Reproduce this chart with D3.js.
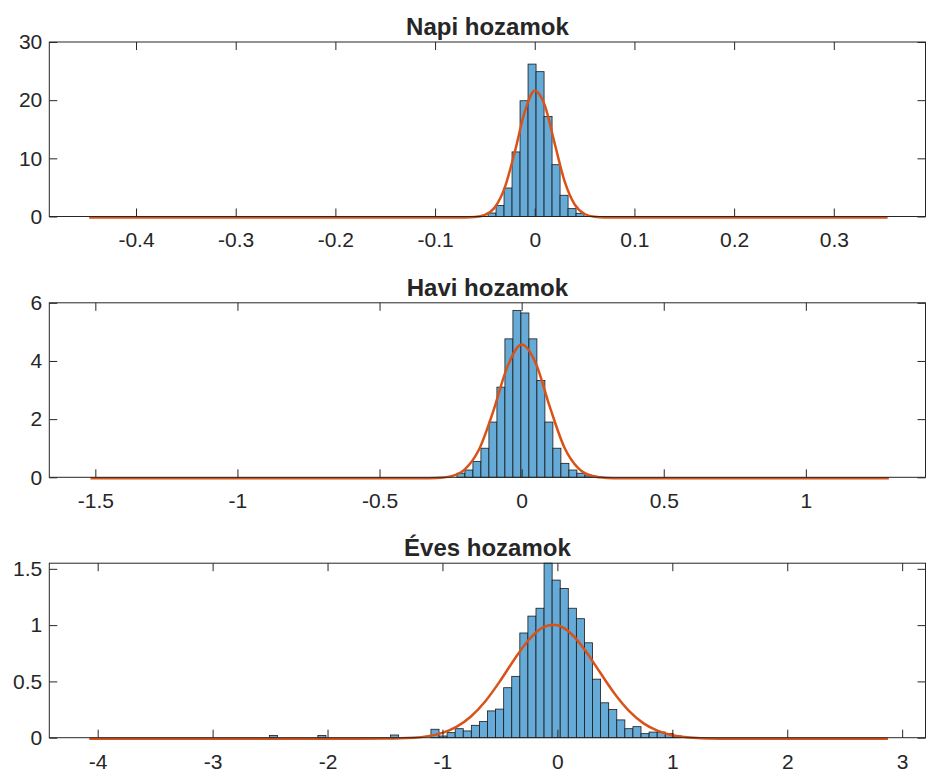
<!DOCTYPE html>
<html>
<head>
<meta charset="utf-8">
<script src="https://cdn.jsdelivr.net/npm/d3@7"></script>
<style>
  body { margin: 0; background: #fff; }
  text { font-family: "Liberation Sans", Arial, Helvetica, sans-serif; fill: #262626; }
</style>
</head>
<body>
<script>
var width = 934,
    height = 780;

var titles = ["Napi hozamok", "Havi hozamok", "Éves hozamok"];

// Napi hozamok (daily)
var napiXDomain = [-0.487, 0.392];
var napiYDomain = [0, 30];
var napiXTicks = [-0.4, -0.3, -0.2, -0.1, 0, 0.1, 0.2, 0.3];
var napiYTicks = [0, 10, 20, 30];
var napiBinStart = -0.04687, napiBinWidth = 0.00803;
var napiHeights = [0.6, 1.9, 4.9, 11.1, 19.9, 26.2, 24.9, 17.2, 8.9, 3.65, 1.35, 0.55];
var napiCurveX = [-0.447, -0.07, -0.06, -0.05, -0.04, -0.03, -0.02, -0.01, 0, 0.01, 0.02, 0.03, 0.04, 0.05, 0.06, 0.07, 0.354];
var napiCurveY = [0, 0.01, 0.08, 0.45, 1.77, 5.19, 11.29, 18.2, 21.77, 19.32, 12.72, 6.21, 2.25, 0.6, 0.12, 0.02, 0];

// Havi hozamok (monthly)
var haviXDomain = [-1.662, 1.421];
var haviYDomain = [0, 6];
var haviXTicks = [-1.5, -1, -0.5, 0, 0.5, 1];
var haviYTicks = [0, 2, 4, 6];
var haviBinStart = -0.2277, haviBinWidth = 0.02814;
var haviHeights = [0.14, 0.25, 0.54, 1.0, 1.9, 3.1, 4.76, 5.74, 5.65, 4.76, 3.33, 1.9, 1.0, 0.48, 0.25, 0.14, 0.05];
var haviCurveX = [-1.517, -0.35, -0.3, -0.25, -0.2, -0.15, -0.1, -0.05, 0, 0.05, 0.1, 0.15, 0.2, 0.25, 0.3, 0.35, 1.292];
var haviCurveY = [0, 0, 0.011, 0.067, 0.305, 0.988, 2.3, 3.84, 4.6, 3.95, 2.43, 1.07, 0.34, 0.077, 0.013, 0, 0];

// Éves hozamok (yearly)
var evesXDomain = [-4.421, 3.203];
var evesYDomain = [0, 1.55];
var evesXTicks = [-4, -3, -2, -1, 0, 1, 2, 3];
var evesYTicks = [0, 0.5, 1, 1.5];
var evesBinStart = -2.5062, evesBinWidth = 0.0703;
var evesHeights = [0.02, 0, 0, 0, 0, 0, 0.02, 0, 0, 0, 0, 0, 0, 0, 0, 0.024, 0, 0, 0, 0,
  0.075, 0.015, 0.045, 0.08, 0.06, 0.11, 0.143, 0.238, 0.254, 0.444, 0.545, 0.93, 1.08, 1.15,
  1.55, 1.4, 1.325, 1.15, 1.057, 0.843, 0.52, 0.31, 0.25, 0.158, 0.08, 0.098, 0.036, 0.05, 0.05, 0.036, 0.015];
var evesCurveX = [-4.073, -1.75, -1.5, -1.25, -1.125, -1, -0.875, -0.75, -0.625, -0.5, -0.375, -0.25, -0.125, -0.04, 0, 0.125, 0.25, 0.375, 0.5, 0.625, 0.75, 0.875, 1, 1.125, 1.25, 1.5, 1.75, 2.876];
var evesCurveY = [0, 0, 0.001, 0.009, 0.023, 0.052, 0.107, 0.199, 0.335, 0.51, 0.704, 0.877, 0.988, 1.012, 1.007, 0.928, 0.773, 0.583, 0.397, 0.245, 0.136, 0.069, 0.031, 0.013, 0.005, 0.0005, 0, 0];

var panels = [
  { title: titles[0], xd: napiXDomain, yd: napiYDomain, xt: napiXTicks, yt: napiYTicks,
    start: napiBinStart, bw: napiBinWidth, h: napiHeights, cx: napiCurveX, cy: napiCurveY },
  { title: titles[1], xd: haviXDomain, yd: haviYDomain, xt: haviXTicks, yt: haviYTicks,
    start: haviBinStart, bw: haviBinWidth, h: haviHeights, cx: haviCurveX, cy: haviCurveY },
  { title: titles[2], xd: evesXDomain, yd: evesYDomain, xt: evesXTicks, yt: evesYTicks,
    start: evesBinStart, bw: evesBinWidth, h: evesHeights, cx: evesCurveX, cy: evesCurveY }
];

var left = 49.3, right = 925.5,
    tops = [42, 302.8, 563.2],
    ph = 174.5;

var svg = d3.select('body')
  .append('svg')
  .attr('width', width)
  .attr('height', height);

panels.forEach(function(p, pi) {
  var top = tops[pi];
  var x = d3.scaleLinear().domain(p.xd).range([left, right]);
  var y = d3.scaleLinear().domain(p.yd).range([top + ph, top]);

  var g = svg.append('g');

  // histogram bars
  var bins = p.h.map(function(v, i) { return { x0: p.start + i * p.bw, x1: p.start + (i + 1) * p.bw, v: v }; })
    .filter(function(d) { return d.v > 0; });

  g.selectAll('rect.bar')
    .data(bins)
    .enter().append('rect')
      .attr('class', 'bar')
      .attr('x', function(d) { return x(d.x0); })
      .attr('width', function(d) { return x(d.x1) - x(d.x0); })
      .attr('y', function(d) { return y(d.v); })
      .attr('height', function(d) { return y(0) - y(d.v); })
      .attr('fill', '#66aad7')
      .attr('stroke', '#1a1a1a')
      .attr('stroke-width', 0.8);

  // fitted curve
  var pts = p.cx.map(function(v, i) { return [v, p.cy[i]]; });
  var line = d3.line()
    .x(function(d) { return x(d[0]); })
    .y(function(d) { return y(d[1]); })
    .curve(d3.curveMonotoneX);

  g.append('path')
    .datum(pts)
    .attr('d', line)
    .attr('transform', 'translate(0,1)')
    .attr('fill', 'none')
    .attr('stroke', '#d95319')
    .attr('stroke-width', 2.5)
    .attr('stroke-linejoin', 'round');

  // axes, ticks inward on all four sides
  function clean(a) {
    a.select('.domain').remove();
    a.attr('color', '#262626').attr('font-size', null).attr('font-family', null);
    a.selectAll('text').style('font-size', '21px');
  }

  g.append('g')
    .attr('transform', 'translate(0,' + (top + ph) + ')')
    .call(d3.axisBottom(x).tickValues(p.xt).tickSize(-8).tickPadding(16).tickFormat(function(d) { return String(d); }))
    .call(clean);

  g.append('g')
    .attr('transform', 'translate(0,' + top + ')')
    .call(d3.axisTop(x).tickValues(p.xt).tickSize(-8).tickFormat(''))
    .call(clean);

  g.append('g')
    .attr('transform', 'translate(' + left + ',0)')
    .call(d3.axisLeft(y).tickValues(p.yt).tickSize(-8).tickPadding(7).tickFormat(function(d) { return String(d); }))
    .call(clean);

  g.append('g')
    .attr('transform', 'translate(' + right + ',0)')
    .call(d3.axisRight(y).tickValues(p.yt).tickSize(-8).tickFormat(''))
    .call(clean);

  g.append('rect')
    .attr('x', left)
    .attr('y', top)
    .attr('width', right - left)
    .attr('height', ph)
    .attr('fill', 'none')
    .attr('stroke', '#262626')
    .attr('stroke-width', 1);

  g.append('text')
    .attr('x', (left + right) / 2)
    .attr('y', top - 7)
    .attr('text-anchor', 'middle')
    .style('font-size', '24px')
    .style('font-weight', 'bold')
    .text(p.title);
});
</script>
</body>
</html>
